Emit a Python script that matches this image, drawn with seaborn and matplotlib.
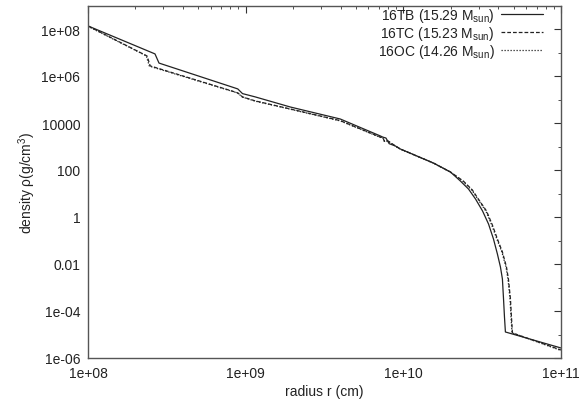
import seaborn as sns
import pandas as pd
import numpy as np
import matplotlib.pyplot as plt
from matplotlib.ticker import FixedLocator, NullFormatter, LogLocator

# radius (cm) and density (g/cm^3)
r_16TB = [1.0e8, 2.66e8, 2.82e8, 8.20e8, 8.91e8, 9.55e8, 1.15e9, 1.92e9, 3.98e9,
          7.14e9, 7.41e9, 7.76e9, 8.13e9, 8.91e9, 9.57e9, 1.55e10, 1.99e10, 2.30e10,
          2.59e10, 2.87e10, 3.18e10, 3.47e10, 3.73e10, 3.95e10, 4.13e10, 4.25e10,
          4.32e10, 4.38e10, 4.44e10, 1.0e11]
rho_16TB = [1.35e8, 8.71e6, 3.55e6, 3.39e5, 2.82e5, 1.78e5, 1.29e5, 4.79e4, 1.48e4,
            2.82e3, 2.51e3, 2.29e3, 1.32e3, 1.05e3, 7.83e2, 1.99e2, 8.22e1, 3.40e1,
            1.55e1, 5.83e0, 1.80e0, 5.04e-1, 1.16e-1, 2.67e-2, 7.45e-3, 2.30e-3,
            3.25e-4, 5.56e-5, 1.28e-5, 2.67e-6]

r_16TC = [1.0e8, 2.37e8, 2.48e8, 8.20e8, 8.91e8, 9.55e8, 1.15e9, 1.91e9, 3.98e9,
          7.14e9, 7.41e9, 7.59e9, 7.94e9, 8.91e9, 9.57e9, 1.55e10, 1.99e10, 2.40e10,
          2.74e10, 2.99e10, 3.37e10, 3.67e10, 3.95e10, 4.25e10, 4.51e10, 4.64e10,
          4.78e10, 4.85e10, 4.92e10, 1.0e11]
rho_16TC = [1.35e8, 7.08e6, 2.69e6, 2.29e5, 1.91e5, 1.29e5, 8.71e4, 3.98e4, 1.26e4,
            2.51e3, 2.40e3, 1.66e3, 1.78e3, 1.05e3, 7.83e2, 1.99e2, 8.22e1, 3.40e1,
            1.41e1, 5.83e0, 1.80e0, 4.57e-1, 1.16e-1, 3.24e-2, 7.45e-3, 2.30e-3,
            3.25e-4, 5.56e-5, 1.16e-5, 2.19e-6]

r_16OC = [1.0e8, 2.34e8, 2.45e8, 8.20e8, 8.91e8, 9.55e8, 1.15e9, 1.91e9, 3.98e9,
          7.14e9, 7.41e9, 7.59e9, 7.94e9, 8.91e9, 9.57e9, 1.55e10, 1.99e10, 2.38e10,
          2.72e10, 2.97e10, 3.34e10, 3.64e10, 3.92e10, 4.22e10, 4.48e10, 4.61e10,
          4.75e10, 4.82e10, 4.89e10, 1.0e11]
rho_16OC = [1.30e8, 7.24e6, 2.63e6, 2.24e5, 1.86e5, 1.26e5, 8.51e4, 3.89e4, 1.23e4,
            2.45e3, 2.34e3, 1.62e3, 1.74e3, 1.02e3, 7.70e2, 1.96e2, 8.10e1, 3.35e1,
            1.40e1, 5.75e0, 1.78e0, 4.50e-1, 1.14e-1, 3.20e-2, 7.35e-3, 2.27e-3,
            3.20e-4, 5.50e-5, 1.18e-5, 2.09e-6]

labels = [r'16TB (15.29 M$_\mathregular{sun}$)',
          r'16TC (15.23 M$_\mathregular{sun}$)',
          r'16OC (14.26 M$_\mathregular{sun}$)']

y_ticks = [1e-6, 1e-4, 1e-2, 1, 1e2, 1e4, 1e6, 1e8]
y_ticklabels = ['1e-06', '1e-04', '0.01', '1', '100', '10000', '1e+06', '1e+08']
x_ticks = [1e8, 1e9, 1e10, 1e11]
x_ticklabels = ['1e+08', '1e+09', '1e+10', '1e+11']

sns.set_style('white')
plt.rcParams['font.family'] = ['Liberation Sans', 'DejaVu Sans']
plt.rcParams['mathtext.fontset'] = 'custom'
plt.rcParams['mathtext.rm'] = 'Liberation Sans'
plt.rcParams['mathtext.it'] = 'Liberation Sans:italic'

fig = plt.figure(figsize=(5.85, 4.06), dpi=100)
ax = fig.add_axes([88 / 585, 47 / 406, 473 / 585, 352.5 / 406])

series = [(r_16TB, rho_16TB, '-'), (r_16TC, rho_16TC, (0, (3, 1.6))),
          (r_16OC, rho_16OC, (0, (1, 1.4)))]
for (r, rho, ls), lab in zip(series, labels):
    df = pd.DataFrame({'r': r, 'rho': rho})
    sns.lineplot(data=df, x='r', y='rho', ax=ax, color='#222222', linewidth=0.9,
                 linestyle=ls, label=lab, sort=False)

ax.set_xscale('log')
ax.set_yscale('log')
ax.set_xlim(1e8, 1e11)
ax.set_ylim(1e-6, 1e9)

ax.yaxis.set_major_locator(FixedLocator(y_ticks))
ax.set_yticklabels(y_ticklabels)
ax.yaxis.set_minor_locator(FixedLocator([10.0 ** k for k in range(-5, 9, 2)]))
ax.yaxis.set_minor_formatter(NullFormatter())
ax.xaxis.set_major_locator(FixedLocator(x_ticks))
ax.set_xticklabels(x_ticklabels)
ax.xaxis.set_minor_locator(LogLocator(base=10, subs=np.arange(2, 10)))
ax.xaxis.set_minor_formatter(NullFormatter())

ax.tick_params(which='both', direction='in', top=True, right=True,
               color='#333333', labelsize=10, labelcolor='#222222', pad=5.5)
ax.tick_params(which='major', length=5, width=0.8)
ax.tick_params(which='minor', length=2.5, width=0.6)
for s in ax.spines.values():
    s.set_color('#555555')
    s.set_linewidth(1.0)

ax.set_xlabel('radius r (cm)', fontsize=10, color='#222222', labelpad=3)
ax.set_ylabel(r'density ρ(g/cm$^\mathregular{3}$)', fontsize=10, color='#222222',
              labelpad=2.5)

leg = ax.legend(loc='upper right', bbox_to_anchor=(0.962, 0.998), frameon=False,
                markerfirst=False, fontsize=10, handlelength=3.0,
                handletextpad=0.5, labelspacing=0.0, borderpad=0,
                borderaxespad=0)
for t in leg.get_texts():
    t.set_color('#222222')

fig.savefig('out.png', dpi=100)
